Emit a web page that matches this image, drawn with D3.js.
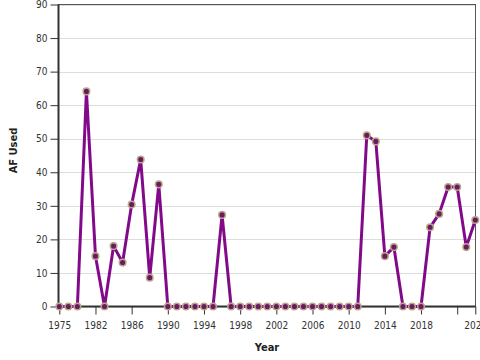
<!DOCTYPE html>
<html>
<head>
<meta charset="utf-8">
<script src="https://cdn.jsdelivr.net/npm/d3@7"></script>
<style>
  html, body { margin: 0; padding: 0; background: #fff; }
  svg { display: block; }
  text { font-family: "DejaVu Sans Condensed", "DejaVu Sans", sans-serif; font-stretch: condensed; }
</style>
</head>
<body>
<svg id="chart" width="480" height="360"></svg>
<script>
// ---- data ----
const years = [1975, 1979, 1980, 1981, 1982, 1983, 1984, 1985, 1986, 1987, 1988, 1989,
  1990, 1991, 1992, 1993, 1994, 1995, 1996, 1997, 1998, 1999, 2000, 2001, 2002, 2003,
  2004, 2005, 2006, 2007, 2008, 2009, 2010, 2011, 2012, 2013, 2014, 2015, 2016, 2017,
  2018, 2019, 2020, 2021, 2022, 2023, 2024];
const afUsed = [0, 0, 0, 64.1, 15.0, 0, 18.0, 13.1, 30.4, 43.8, 8.6, 36.4,
  0, 0, 0, 0, 0, 0, 27.3, 0, 0, 0, 0, 0, 0, 0,
  0, 0, 0, 0, 0, 0, 0, 0, 51.0, 49.2, 15.0, 17.7, 0, 0,
  0, 23.6, 27.6, 35.6, 35.6, 17.7, 25.8];
const xTickYears = [1975, 1982, 1986, 1990, 1994, 1998, 2002, 2006, 2010, 2014, 2018, 2022, 2024];
const xLabelYears = [1975, 1982, 1986, 1990, 1994, 1998, 2002, 2006, 2010, 2014, 2018, 2024];
const yTicks = [0, 10, 20, 30, 40, 50, 60, 70, 80, 90];
const xTitle = "Year";
const yTitle = "AF Used";

const data = years.map((yr, i) => ({ year: yr, value: afUsed[i] }));

// ---- layout ----
const svg = d3.select("#chart");
const mLeft = 58.5, mRight = 475.5, mTop = 4.5, mBottom = 306.5;

const x = d3.scalePoint().domain(years).range([mLeft + 0.8, mRight - 0.2]);
const y = d3.scaleLinear().domain([0, 90]).range([mBottom, mTop]);

// gridlines
svg.append("g")
  .selectAll("line")
  .data(yTicks)
  .join("line")
  .attr("x1", mLeft).attr("x2", mRight)
  .attr("y1", d => Math.round(y(d)) + 0.5).attr("y2", d => Math.round(y(d)) + 0.5)
  .attr("stroke", "#dddddd").attr("stroke-width", 1);

// frame
svg.append("rect")
  .attr("x", mLeft).attr("y", mTop)
  .attr("width", mRight - mLeft).attr("height", mBottom - mTop)
  .attr("fill", "none").attr("stroke", "#555").attr("stroke-width", 1);

// x axis
const xAxis = d3.axisBottom(x)
  .tickValues(xTickYears)
  .tickSize(8)
  .tickFormat(d => xLabelYears.includes(d) ? String(d) : "");
const gx = svg.append("g").attr("transform", `translate(0,${mBottom})`).call(xAxis);
gx.select(".domain").attr("stroke", "#333").attr("stroke-width", 2).attr("d", `M${mLeft},0H${mRight}`);
gx.selectAll(".tick line").attr("stroke", "#333").attr("stroke-width", 1);
gx.selectAll(".tick text")
  .attr("y", 22.5).attr("dy", null)
  .attr("fill", "#333").style("font-size", "10px");

// y axis
const yAxis = d3.axisLeft(y).tickValues(yTicks).tickSize(8).tickPadding(3);
const gy = svg.append("g").attr("transform", `translate(${mLeft},0)`).call(yAxis);
gy.select(".domain").attr("stroke", "#333").attr("stroke-width", 2).attr("d", `M0,${mTop}V${mBottom}`);
gy.selectAll(".tick line").attr("stroke", "#333").attr("stroke-width", 1);
gy.selectAll(".tick text").attr("fill", "#333").style("font-size", "10px");

// axis titles
svg.append("text")
  .attr("x", (mLeft + mRight) / 2).attr("y", 351)
  .attr("text-anchor", "middle")
  .attr("font-weight", "bold").attr("font-size", 11).attr("fill", "#222")
  .text(xTitle);
svg.append("text")
  .attr("transform", `translate(17,150.5) rotate(-90)`)
  .attr("text-anchor", "middle")
  .attr("font-weight", "bold").attr("font-size", 11).attr("fill", "#222")
  .text(yTitle);

// line
const line = d3.line().x(d => x(d.year)).y(d => y(d.value));
svg.append("path")
  .datum(data)
  .attr("d", line)
  .attr("fill", "none")
  .attr("stroke", "#820a8a")
  .attr("stroke-width", 3)
  .attr("stroke-linejoin", "miter");

// points
svg.append("g")
  .selectAll("circle")
  .data(data)
  .join("circle")
  .attr("cx", d => x(d.year))
  .attr("cy", d => y(d.value))
  .attr("r", 3.3)
  .attr("fill", "#6a1a62")
  .attr("stroke", "#bba888")
  .attr("stroke-width", 1.5);
</script>
</body>
</html>
